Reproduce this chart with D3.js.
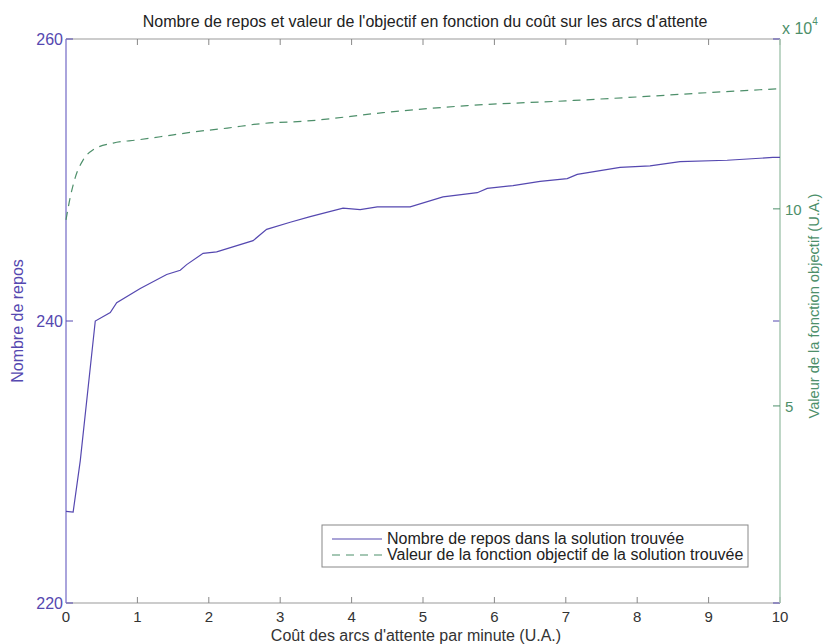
<!DOCTYPE html>
<html><head><meta charset="utf-8">
<script src="https://cdn.jsdelivr.net/npm/d3@7"></script>
<style>body{margin:0;background:#fff}svg{font-family:"Liberation Sans",Arial,sans-serif}</style>
</head><body><svg id="c" width="826" height="644"></svg>
<script>
const reposX = [0,0.1,0.2,0.41,0.62,0.71,1.04,1.41,1.6,1.69,1.92,2.11,2.62,2.81,3.14,3.42,3.88,4.12,4.36,4.82,5.28,5.76,5.9,6.26,6.64,7.02,7.16,7.76,8.18,8.6,9.26,9.9,10];
const reposY = [226.5,226.45,230.1,240,240.6,241.3,242.3,243.3,243.6,244,244.8,244.9,245.7,246.5,247.0,247.4,248.0,247.9,248.1,248.1,248.8,249.1,249.4,249.6,249.9,250.1,250.4,250.9,251.0,251.3,251.4,251.6,251.6];
const objX = [0,0.06,0.13,0.24,0.38,0.66,1.0,1.32,1.78,2.26,2.72,3.38,4.44,5.62,7.0,8.0,9.0,10];
const objY = [9.72,10.3,10.8,11.24,11.5,11.67,11.75,11.83,11.95,12.05,12.16,12.23,12.44,12.62,12.74,12.84,12.95,13.05];
const xTicks = [0,1,2,3,4,5,6,7,8,9,10];
const leftTicks = [220,240,260];
const rightTicks = [5,10];
const title = "Nombre de repos et valeur de l'objectif en fonction du coût sur les arcs d'attente";
const xLabel = "Coût des arcs d'attente par minute (U.A.)";
const leftLabel = "Nombre de repos";
const rightLabel = "Valeur de la fonction objectif (U.A.)";
const legendLabels = ["Nombre de repos dans la solution trouvée","Valeur de la fonction objectif de la solution trouvée"];

const blue = "#5548b0", green = "#4d8f6a";
const L=66,R=780,T=39,B=603;
const FS=16;
const svg = d3.select("#c");
const x = d3.scaleLinear().domain([0,10]).range([L,R]);
const yl = d3.scaleLinear().domain([220,260]).range([B,T]);
const yr = d3.scaleLinear().domain([0,14.31]).range([B,T]);

svg.append("line").attr("x1",L).attr("x2",R).attr("y1",T).attr("y2",T).attr("stroke","#999");
svg.append("line").attr("x1",L).attr("x2",R).attr("y1",B).attr("y2",B).attr("stroke","#999");
xTicks.forEach(t=>{
  svg.append("line").attr("x1",x(t)).attr("x2",x(t)).attr("y1",B).attr("y2",B-6).attr("stroke","#888");
  svg.append("line").attr("x1",x(t)).attr("x2",x(t)).attr("y1",T).attr("y2",T+6).attr("stroke","#888");
  svg.append("text").attr("x",x(t)).attr("y",622).attr("text-anchor","middle").attr("font-size",15).attr("fill","#333").text(t);
});
svg.append("line").attr("x1",L).attr("x2",L).attr("y1",T).attr("y2",B).attr("stroke","#aaa4dc").attr("stroke-width",2);
leftTicks.forEach(t=>{
  svg.append("line").attr("x1",L).attr("x2",L+7).attr("y1",yl(t)).attr("y2",yl(t)).attr("stroke",blue);
  svg.append("line").attr("x1",R).attr("x2",R-7).attr("y1",yl(t)).attr("y2",yl(t)).attr("stroke",blue);
  svg.append("text").attr("x",L-3).attr("y",yl(t)+6).attr("text-anchor","end").attr("font-size",FS).attr("fill",blue).text(t);
});
svg.append("line").attr("x1",R).attr("x2",R).attr("y1",T).attr("y2",B).attr("stroke","#a9c9b3").attr("stroke-width",1.5);
rightTicks.forEach(t=>{
  svg.append("line").attr("x1",R).attr("x2",R-7).attr("y1",yr(t)).attr("y2",yr(t)).attr("stroke",green);
  svg.append("text").attr("x",R+5).attr("y",yr(t)+6).attr("text-anchor","start").attr("font-size",15).attr("fill",green).text(t);
});
const ex = svg.append("text").attr("x",782).attr("y",34).attr("font-size",FS).attr("fill",green);
ex.append("tspan").text("x 10");
ex.append("tspan").attr("dy",-9).attr("font-size",10).text("4");

svg.append("path").datum(d3.zip(reposX,reposY)).attr("fill","none").attr("stroke",blue).attr("stroke-width",1.2)
  .attr("d",d3.line().x(d=>x(d[0])).y(d=>yl(d[1])));
svg.append("path").datum(d3.zip(objX,objY)).attr("fill","none").attr("stroke",green).attr("stroke-width",1.2)
  .attr("stroke-dasharray","8,6")
  .attr("d",d3.line().curve(d3.curveMonotoneX).x(d=>x(d[0])).y(d=>yr(d[1])));

svg.append("text").attr("x",425).attr("y",27).attr("text-anchor","middle").attr("font-size",FS).attr("fill","#222").text(title);
svg.append("text").attr("x",416).attr("y",641).attr("text-anchor","middle").attr("font-size",FS).attr("fill","#333").text(xLabel);
svg.append("text").attr("transform","translate(23,321) rotate(-90)").attr("text-anchor","middle").attr("font-size",FS).attr("fill",blue).text(leftLabel);
svg.append("text").attr("transform","translate(819,306) rotate(-90)").attr("text-anchor","middle").attr("font-size",14)
  .attr("textLength",225).attr("lengthAdjust","spacingAndGlyphs").attr("fill",green).text(rightLabel);

svg.append("rect").attr("x",322).attr("y",525).attr("width",426).attr("height",42).attr("fill","#fff").attr("stroke","#888");
svg.append("line").attr("x1",332).attr("x2",382).attr("y1",539).attr("y2",539).attr("stroke",blue).attr("stroke-width",1.2);
svg.append("line").attr("x1",332).attr("x2",382).attr("y1",555).attr("y2",555).attr("stroke",green).attr("stroke-width",1.2).attr("stroke-dasharray","8,6");
svg.append("text").attr("x",387).attr("y",544).attr("font-size",FS).attr("fill","#222").text(legendLabels[0]);
svg.append("text").attr("x",387).attr("y",560).attr("font-size",FS).attr("fill","#222").text(legendLabels[1]);
</script></body></html>
